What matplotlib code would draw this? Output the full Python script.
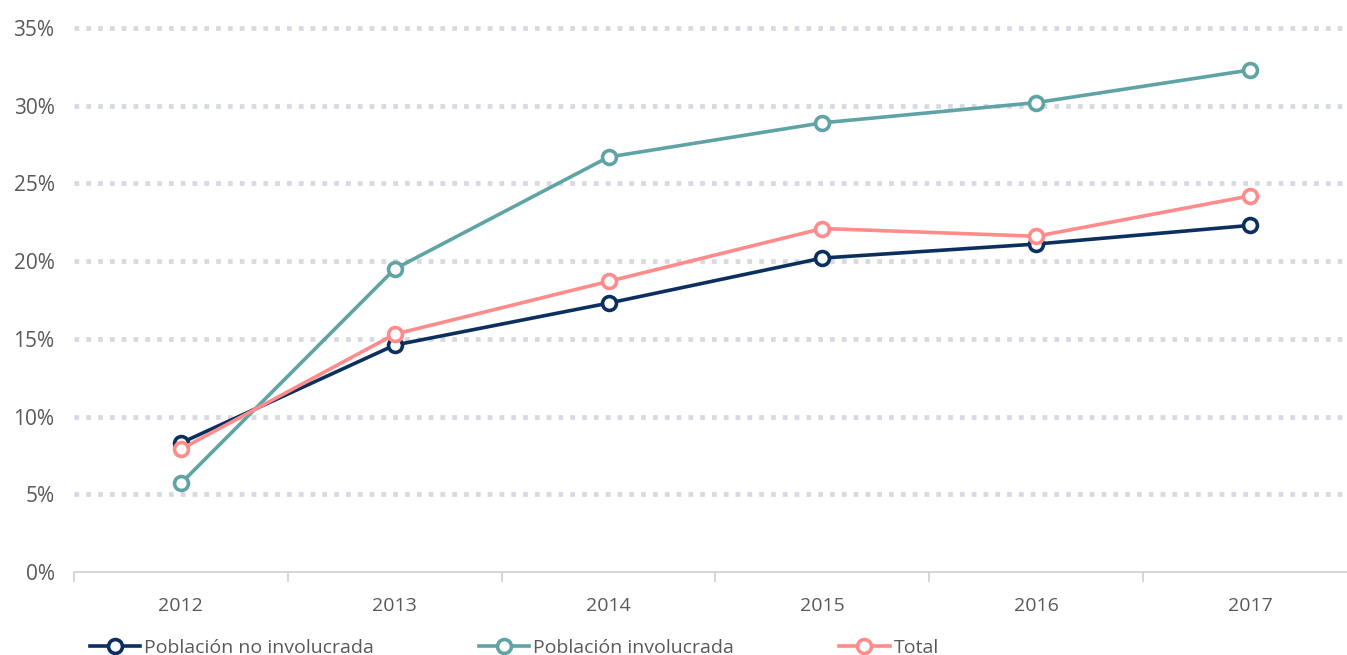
import matplotlib.pyplot as plt
from matplotlib.lines import Line2D

plt.rcParams['font.family'] = ['Open Sans', 'DejaVu Sans']

#(0) Data
years      = ['2012', '2013', '2014', '2015', '2016', '2017']
no_involuc = [8.3, 14.6, 17.3, 20.2, 21.1, 22.3]
involuc    = [5.7, 19.5, 26.7, 28.9, 30.2, 32.3]
total      = [7.9, 15.3, 18.7, 22.1, 21.6, 24.2]
yticks     = [0, 5, 10, 15, 20, 25, 30, 35]

series = [
    ('Población no involucrada', no_involuc, '#0b2f5f'),
    ('Población involucrada',    involuc,    '#5fa3a4'),
    ('Total',                    total,      '#ff8b8a'),
]
txt = '#595959'

#(1) Figure
fig = plt.figure(figsize=(13.47, 6.55), dpi=100)
ax = fig.add_axes([74/1347, 83/655, 1283/1347, (572-28)/655])

x = range(len(years))
for y in yticks[1:]:
    ax.axhline(y, color='#d7d9e2', lw=3.4, ls=(0, (1, 1.5)),
               dash_capstyle='butt', clip_on=False, zorder=1)

for name, vals, col in series:
    ax.plot(x, vals, color=col, lw=2.6, marker='o', ms=10, mfc='white',
            mec=col, mew=2.6, label=name, zorder=3, clip_on=False)

ax.set_xlim(-0.5, len(years) - 0.5)
ax.set_ylim(0, 35)
ax.set_yticks(yticks)
ax.set_yticklabels([f'{v}%' for v in yticks])
ax.set_xticks(list(x))
ax.set_xticklabels(years)
ax.set_xticks([i + 0.5 for i in range(-1, len(years))], minor=True)
ax.tick_params(axis='x', which='major', length=0, pad=18, labelsize=14, labelcolor=txt)
ax.tick_params(axis='x', which='minor', length=7, color='#d0d0d0', width=1.2)
ax.tick_params(axis='y', length=0, pad=14, labelsize=15, labelcolor=txt)
for s in ['top', 'right', 'left']:
    ax.spines[s].set_visible(False)
ax.spines['bottom'].set_color('#d0d0d0')
ax.spines['bottom'].set_linewidth(1.2)

#(2) Legend
handles = [Line2D([], [], color=c, lw=2.6, marker='o', ms=10, mfc='white', mec=c, mew=2.6)
           for _, _, c in series]
fig.legend(handles, [s[0] for s in series], loc='lower left',
           bbox_to_anchor=(72/1347, -0.03), ncol=3, frameon=False,
           fontsize=14, labelcolor=txt, handlelength=2.6, handletextpad=0.2,
           columnspacing=5.4)

fig.savefig('out.png', dpi=100)
